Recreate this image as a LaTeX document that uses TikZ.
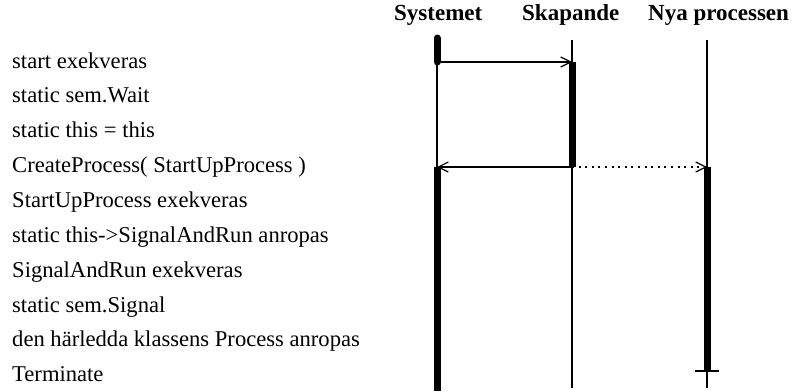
\documentclass[tikz,border=0pt]{standalone}
\usepackage{fontspec}
\setmainfont{Liberation Serif}
\usetikzlibrary{positioning,arrows.meta}

\begin{document}
\begin{tikzpicture}[
			x=1pt,y=-1pt,
			head/.style={anchor=base west,inner sep=0pt,font=\fontsize{23}{27}\selectfont\bfseries},
			row/.style={anchor=base west,inner sep=0pt,font=\fontsize{22.6}{27}\selectfont},
			life/.style={line width=1.3pt},
			act/.style={line width=7pt},
			msg/.style={-{Straight Barb[length=10pt,width=10pt,line width=1.2pt]},line width=1.2pt},
			async/.style={msg,dash pattern=on 2pt off 4.6pt}
			]
			
			\useasboundingbox (0,0) rectangle (798,391);
			
			% kolumnrubriker
			\node[head] (sys) at (394,20) {Systemet};
			\node[head] (skap) at (522,20) {Skapande};
			\node[head] (nya) at (648,20) {Nya processen};
			
			% texter till vänster
			\node[row] (r1) at (12,68) {start exekveras};
			\node[row] (r2) at (12,102) {static sem.Wait};
			\node[row] (r3) at (12,137) {static this = this};
			\node[row] (r4) at (12,172) {CreateProcess( StartUpProcess )};
			\node[row] (r5) at (12,207) {StartUpProcess exekveras};
			\node[row] (r6) at (12,242) {static this->SignalAndRun anropas};
			\node[row] (r7) at (12,277) {SignalAndRun exekveras};
			\node[row] (r8) at (12,312) {static sem.Signal};
			\node[row] (r9) at (12,346) {den härledda klassens Process anropas};
			\node[row] (r10) at (12,381) {Terminate};
			
			% livslinjer
			\coordinate (sysA) at (437,38);
			\coordinate (sysB) at (437,62);
			\coordinate (sysC) at (437,167);
			\coordinate (sysD) at (437,391);
			\coordinate (skapA) at (572,40);
			\coordinate (skapB) at (572,62);
			\coordinate (skapC) at (572,167);
			\coordinate (skapD) at (572,388);
			\coordinate (nyaA) at (707,40);
			\coordinate (nyaB) at (707,167);
			\coordinate (nyaC) at (707,371);
			\coordinate (nyaD) at (707,388);
			
			\draw[life] (sysB)--(sysC);
			\draw[life] (skapA)--(skapB);
			\draw[life] (skapC)--(skapD);
			\draw[life] (nyaA)--(nyaB);
			\draw[life] (nyaC)--(nyaD);
			
			\draw[act,line cap=round] (sysA)--(sysB);
			\draw[act] (sysC)--(sysD);
			\draw[act] (skapB)--(skapC);
			\draw[act] (nyaB)--(nyaC);
			\draw[line width=2pt] ([xshift=-12pt]nyaC)--([xshift=12pt]nyaC);
			
			% meddelanden
			\draw[msg] (sysB)--(skapB);
			\draw[msg] (skapC)--(sysC);
			\draw[async] (skapC)--(nyaB);
			
		\end{tikzpicture}
\end{document}
